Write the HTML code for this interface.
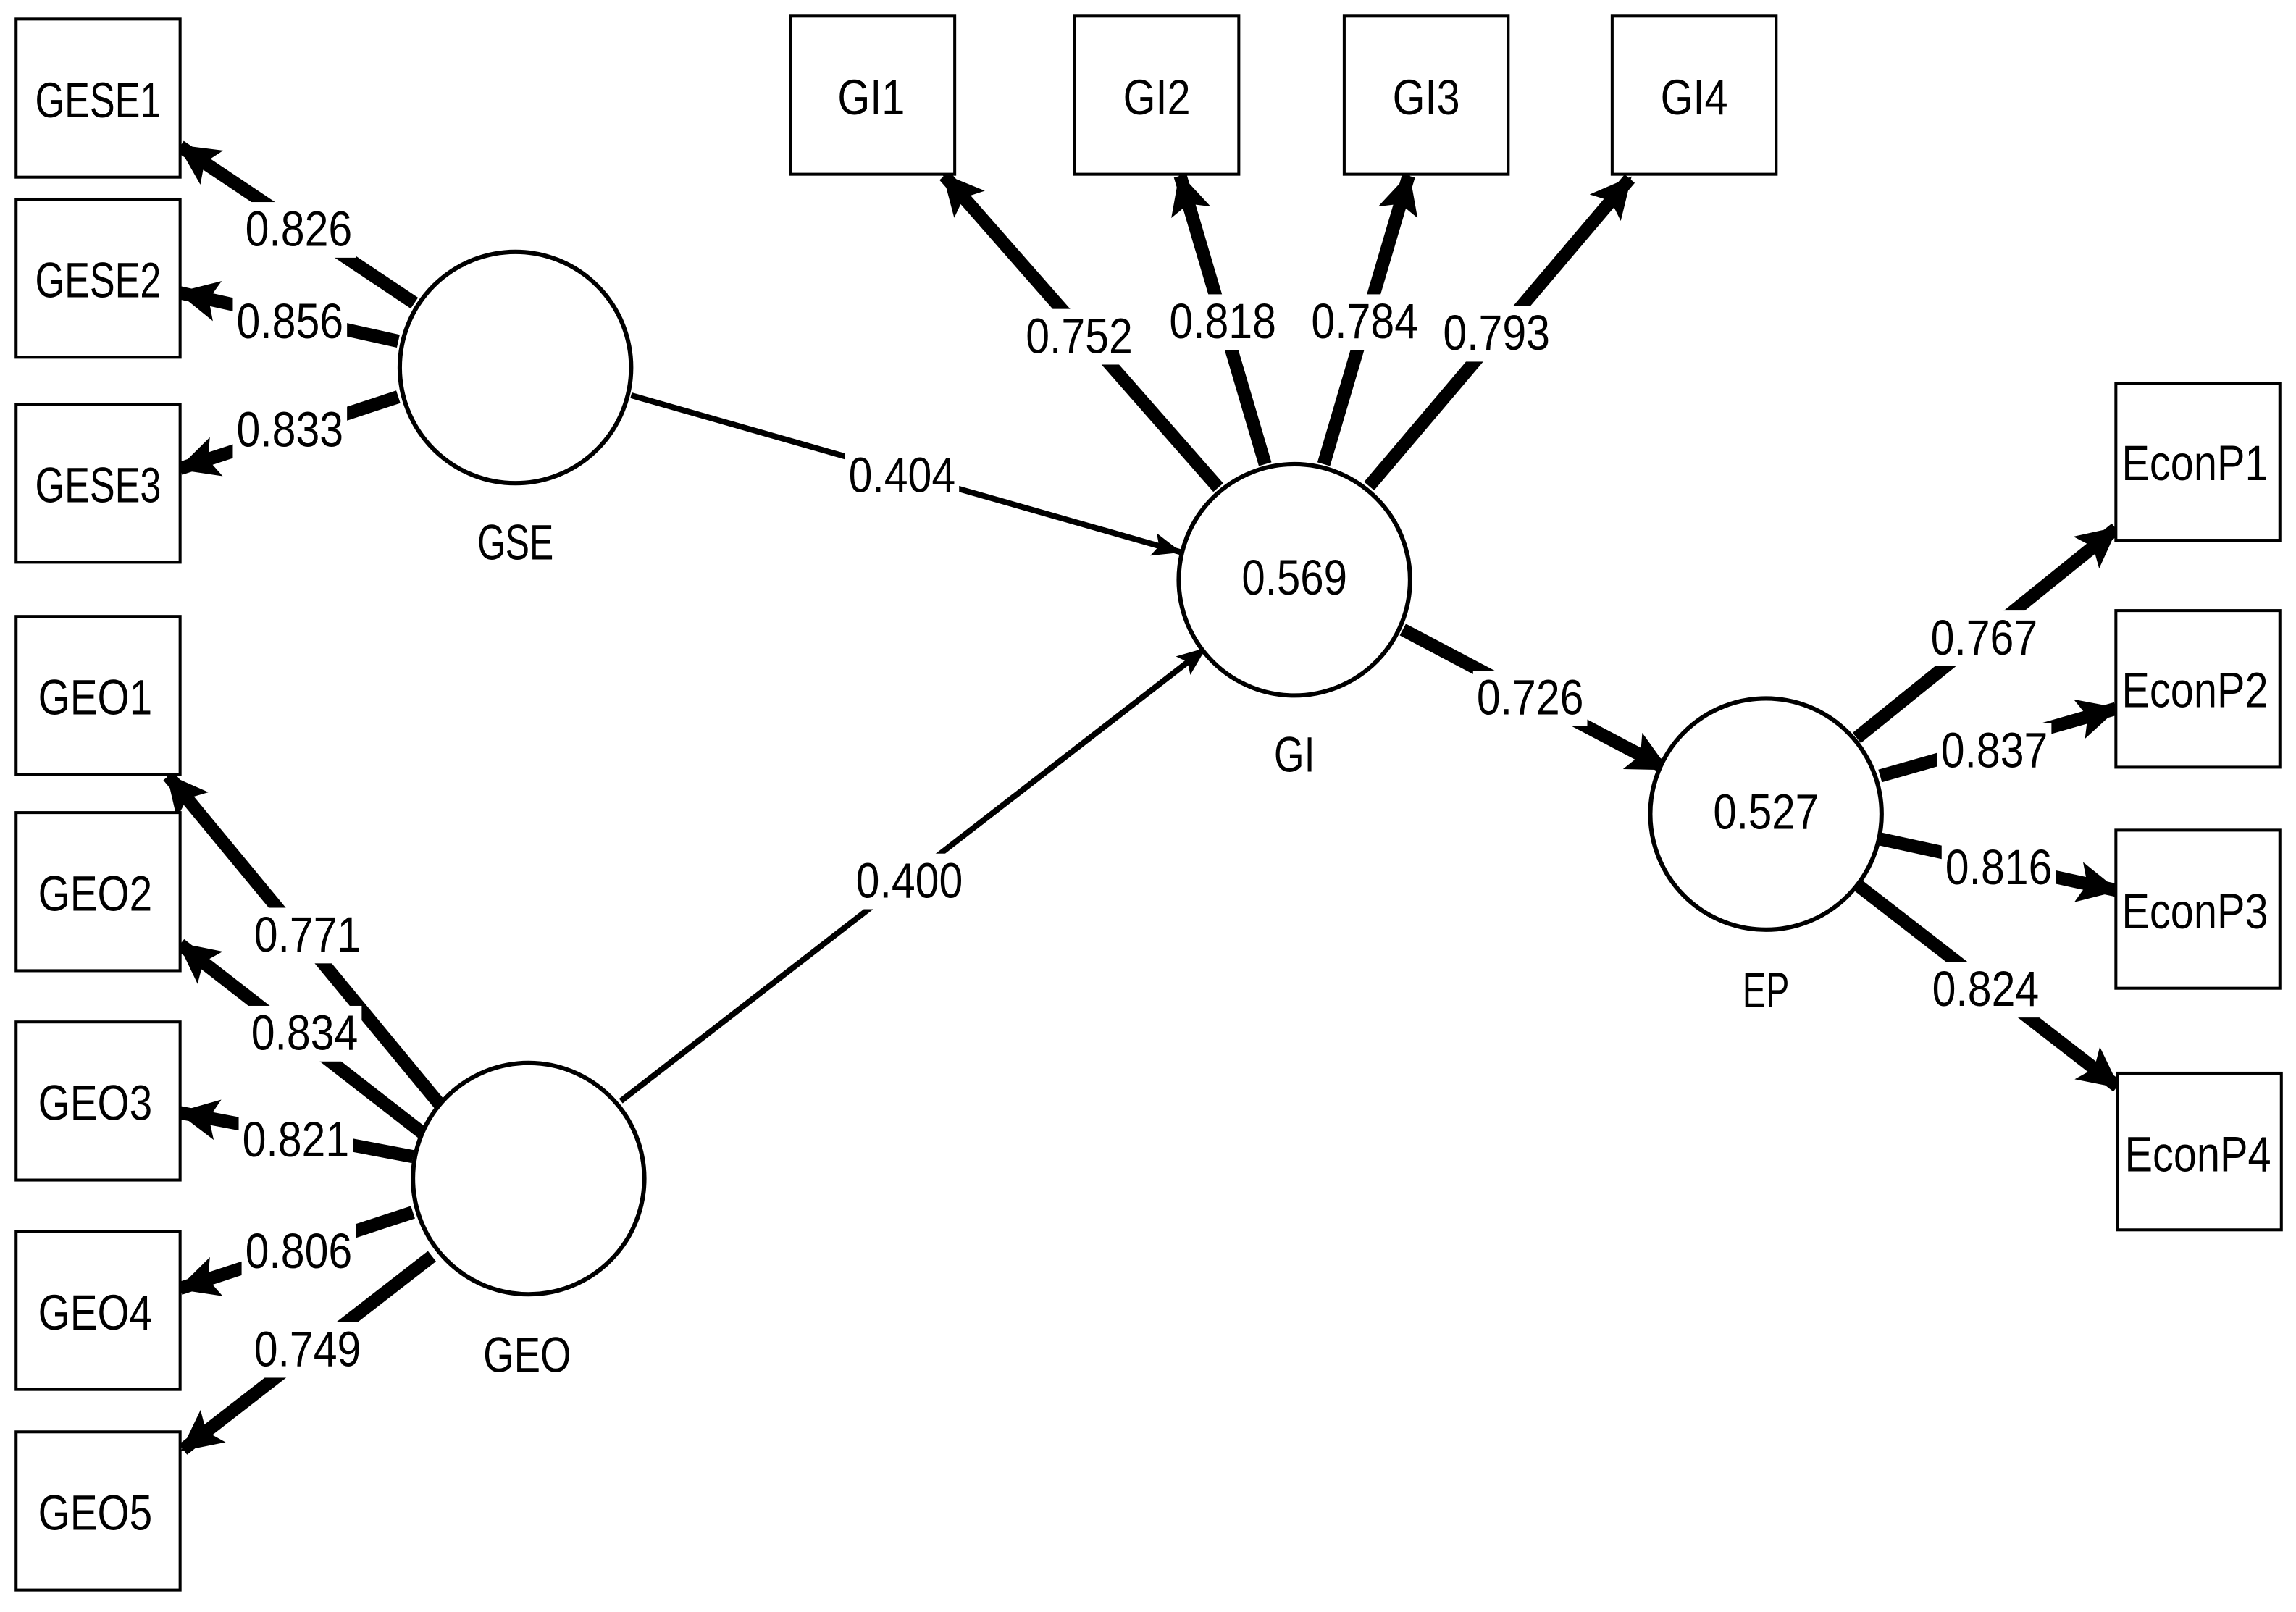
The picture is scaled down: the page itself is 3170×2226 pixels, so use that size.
<!DOCTYPE html>
<html><head><meta charset="utf-8"><style>
html,body{margin:0;padding:0;background:#fff;}
svg{display:block;}
text{font-family:"Liberation Sans",sans-serif;fill:#000;}
</style></head><body>
<svg width="3170" height="2226" viewBox="0 0 1568 1101" xmlns="http://www.w3.org/2000/svg">
<defs>
<marker id="ah" markerUnits="userSpaceOnUse" markerWidth="28" markerHeight="28" refX="26" refY="14" orient="auto" viewBox="0 0 28 28">
<path d="M0,0 L28,14 L0,28 L6,14 Z" fill="#000"/></marker>
<marker id="at" markerUnits="userSpaceOnUse" markerWidth="20" markerHeight="16" refX="19" refY="8" orient="auto" viewBox="0 0 20 16">
<path d="M0,0 L20,8 L0,16 L4,8 Z" fill="#000"/></marker>
</defs>
<rect width="1568" height="1101" fill="#fff"/>
<g stroke="#000" stroke-width="9" fill="none" marker-end="url(#ah)">
<line x1="283" y1="207" x2="123" y2="100"/>
<line x1="272" y1="233" x2="123" y2="200"/>
<line x1="272" y1="271" x2="123" y2="320"/>
<line x1="305" y1="760" x2="115" y2="530"/>
<line x1="290" y1="775" x2="123" y2="645"/>
<line x1="282" y1="790" x2="123" y2="760"/>
<line x1="282" y1="828" x2="123" y2="880"/>
<line x1="295" y1="858" x2="125" y2="990"/>
<line x1="832" y1="333" x2="645" y2="120"/>
<line x1="864" y1="317" x2="806" y2="120"/>
<line x1="904" y1="317" x2="962" y2="120"/>
<line x1="935" y1="332" x2="1113" y2="122"/>
<line x1="958" y1="430" x2="1138" y2="525"/>
<line x1="1268" y1="504" x2="1445" y2="361"/>
<line x1="1284" y1="530" x2="1445" y2="484"/>
<line x1="1284" y1="573" x2="1445" y2="608"/>
<line x1="1268" y1="604" x2="1446" y2="742"/>
</g>
<g stroke="#000" stroke-width="4" fill="none" marker-end="url(#at)">
<line x1="431" y1="270" x2="806" y2="377"/>
<line x1="424" y1="752" x2="823" y2="443"/>
</g>
<g fill="#fff" stroke="#000" stroke-width="2">
<rect x="11" y="13" width="112" height="108"/>
<rect x="11" y="136" width="112" height="108"/>
<rect x="11" y="276" width="112" height="108"/>
<rect x="11" y="421" width="112" height="108"/>
<rect x="11" y="555" width="112" height="108"/>
<rect x="11" y="698" width="112" height="108"/>
<rect x="11" y="841" width="112" height="108"/>
<rect x="11" y="978" width="112" height="108"/>
<rect x="540" y="11" width="112" height="108"/>
<rect x="734" y="11" width="112" height="108"/>
<rect x="918" y="11" width="112" height="108"/>
<rect x="1101" y="11" width="112" height="108"/>
<rect x="1445" y="262" width="112" height="107"/>
<rect x="1445" y="417" width="112" height="107"/>
<rect x="1445" y="567" width="112" height="108"/>
<rect x="1446" y="733" width="112" height="107"/>
</g>
<g fill="#fff" stroke="#000" stroke-width="3">
<circle cx="352" cy="251" r="79"/>
<circle cx="884" cy="396" r="79"/>
<circle cx="1206" cy="556" r="79"/>
<circle cx="361" cy="805" r="79"/>
</g>
<g fill="#fff">
<rect x="165" y="138" width="78" height="38"/>
<rect x="159" y="201" width="78" height="38"/>
<rect x="159" y="275" width="78" height="38"/>
<rect x="577" y="306" width="78" height="38"/>
<rect x="582" y="583" width="78" height="38"/>
<rect x="171" y="620" width="78" height="38"/>
<rect x="169" y="687" width="78" height="38"/>
<rect x="163" y="760" width="78" height="38"/>
<rect x="165" y="836" width="78" height="38"/>
<rect x="171" y="903" width="78" height="38"/>
<rect x="698" y="211" width="78" height="38"/>
<rect x="796" y="201" width="78" height="38"/>
<rect x="893" y="201" width="78" height="38"/>
<rect x="983" y="209" width="78" height="38"/>
<rect x="1006" y="458" width="78" height="38"/>
<rect x="1316" y="417" width="78" height="38"/>
<rect x="1323" y="494" width="78" height="38"/>
<rect x="1326" y="574" width="78" height="38"/>
<rect x="1317" y="657" width="78" height="38"/>
</g>
<g font-size="34" text-anchor="middle">
<text x="67" y="80" textLength="86" lengthAdjust="spacingAndGlyphs">GESE1</text>
<text x="67" y="203" textLength="86" lengthAdjust="spacingAndGlyphs">GESE2</text>
<text x="67" y="343" textLength="86" lengthAdjust="spacingAndGlyphs">GESE3</text>
<text x="65" y="488" textLength="78" lengthAdjust="spacingAndGlyphs">GEO1</text>
<text x="65" y="622" textLength="78" lengthAdjust="spacingAndGlyphs">GEO2</text>
<text x="65" y="765" textLength="78" lengthAdjust="spacingAndGlyphs">GEO3</text>
<text x="65" y="908" textLength="78" lengthAdjust="spacingAndGlyphs">GEO4</text>
<text x="65" y="1045" textLength="78" lengthAdjust="spacingAndGlyphs">GEO5</text>
<text x="595" y="78" textLength="46" lengthAdjust="spacingAndGlyphs">GI1</text>
<text x="790" y="78" textLength="46" lengthAdjust="spacingAndGlyphs">GI2</text>
<text x="974" y="78" textLength="46" lengthAdjust="spacingAndGlyphs">GI3</text>
<text x="1157" y="78" textLength="46" lengthAdjust="spacingAndGlyphs">GI4</text>
<text x="1499" y="328" textLength="100" lengthAdjust="spacingAndGlyphs">EconP1</text>
<text x="1499" y="483" textLength="100" lengthAdjust="spacingAndGlyphs">EconP2</text>
<text x="1499" y="634" textLength="100" lengthAdjust="spacingAndGlyphs">EconP3</text>
<text x="1501" y="800" textLength="100" lengthAdjust="spacingAndGlyphs">EconP4</text>
<text x="352" y="382" textLength="52" lengthAdjust="spacingAndGlyphs">GSE</text>
<text x="884" y="527" textLength="28" lengthAdjust="spacingAndGlyphs">GI</text>
<text x="1206" y="688" textLength="32" lengthAdjust="spacingAndGlyphs">EP</text>
<text x="360" y="937" textLength="60" lengthAdjust="spacingAndGlyphs">GEO</text>
<text x="884" y="406" textLength="72" lengthAdjust="spacingAndGlyphs">0.569</text>
<text x="1206" y="566" textLength="72" lengthAdjust="spacingAndGlyphs">0.527</text>
</g>
<g font-size="34" text-anchor="middle">
<text x="204" y="168" textLength="73" lengthAdjust="spacingAndGlyphs">0.826</text>
<text x="198" y="231" textLength="73" lengthAdjust="spacingAndGlyphs">0.856</text>
<text x="198" y="305" textLength="73" lengthAdjust="spacingAndGlyphs">0.833</text>
<text x="616" y="336" textLength="73" lengthAdjust="spacingAndGlyphs">0.404</text>
<text x="621" y="613" textLength="73" lengthAdjust="spacingAndGlyphs">0.400</text>
<text x="210" y="650" textLength="73" lengthAdjust="spacingAndGlyphs">0.771</text>
<text x="208" y="717" textLength="73" lengthAdjust="spacingAndGlyphs">0.834</text>
<text x="202" y="790" textLength="73" lengthAdjust="spacingAndGlyphs">0.821</text>
<text x="204" y="866" textLength="73" lengthAdjust="spacingAndGlyphs">0.806</text>
<text x="210" y="933" textLength="73" lengthAdjust="spacingAndGlyphs">0.749</text>
<text x="737" y="241" textLength="73" lengthAdjust="spacingAndGlyphs">0.752</text>
<text x="835" y="231" textLength="73" lengthAdjust="spacingAndGlyphs">0.818</text>
<text x="932" y="231" textLength="73" lengthAdjust="spacingAndGlyphs">0.784</text>
<text x="1022" y="239" textLength="73" lengthAdjust="spacingAndGlyphs">0.793</text>
<text x="1045" y="488" textLength="73" lengthAdjust="spacingAndGlyphs">0.726</text>
<text x="1355" y="447" textLength="73" lengthAdjust="spacingAndGlyphs">0.767</text>
<text x="1362" y="524" textLength="73" lengthAdjust="spacingAndGlyphs">0.837</text>
<text x="1365" y="604" textLength="73" lengthAdjust="spacingAndGlyphs">0.816</text>
<text x="1356" y="687" textLength="73" lengthAdjust="spacingAndGlyphs">0.824</text>
</g>
</svg>
</body></html>
